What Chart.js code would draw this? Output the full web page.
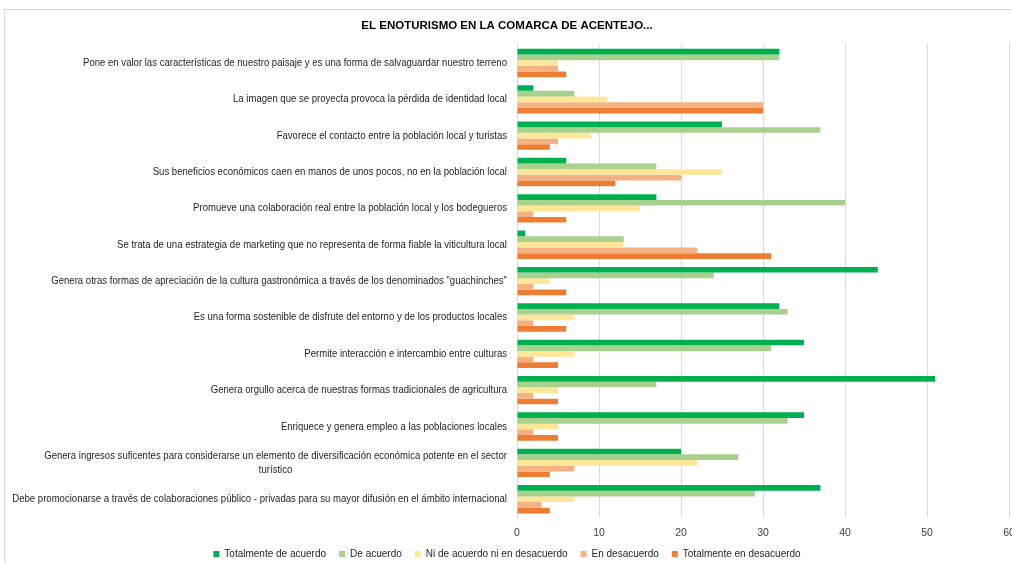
<!DOCTYPE html>
<html>
<head>
<meta charset="utf-8">
<script src="https://cdn.jsdelivr.net/npm/chart.js@4/dist/chart.umd.min.js"></script>
<style>
    body { margin: 0; background: #fff; overflow: hidden; }
    #wrap {
        position: absolute;
        left: 4px;
        top: 9px;
        width: 1020px;
        height: 559px;
        border: 1px solid #d9d9d9;
    }
</style>
</head>
<body>
<div id="wrap"><canvas id="myChart"></canvas></div>
<script>
const categories = [
    'Pone en valor las características de nuestro paisaje y es una forma de salvaguardar nuestro terreno',
    'La imagen que se proyecta provoca la pérdida de identidad local',
    'Favorece el contacto entre la población local y turistas',
    'Sus beneficios económicos caen en manos de unos pocos, no en la población local',
    'Promueve una colaboración real entre la población local y los bodegueros',
    'Se trata de una estrategia de marketing que no representa de forma fiable la viticultura local',
    'Genera otras formas de apreciación de la cultura gastronómica a través de los denominados "guachinches"',
    'Es una forma sostenible de disfrute del entorno y de los productos locales',
    'Permite interacción e intercambio entre culturas',
    'Genera orgullo acerca de nuestras formas tradicionales de agricultura',
    'Enriquece y genera empleo a las poblaciones locales',
    ['Genera ingresos suficentes para considerarse un elemento de diversificación económica potente en el sector', 'turístico'],
    'Debe promocionarse a través de colaboraciones público - privadas para su mayor difusión en el ámbito internacional'
];

const seriesNames = [
    'Totalmente de acuerdo',
    'De acuerdo',
    'Ni de acuerdo ni en desacuerdo',
    'En desacuerdo',
    'Totalmente en desacuerdo'
];

const totalmenteAcuerdo = [32, 2, 25, 6, 17, 1, 44, 32, 35, 51, 35, 20, 37];
const deAcuerdo = [32, 7, 37, 17, 40, 13, 24, 33, 31, 17, 33, 27, 29];
const neutral = [5, 11, 9, 25, 15, 13, 4, 7, 7, 5, 5, 22, 7];
const enDesacuerdo = [5, 30, 5, 20, 2, 22, 2, 2, 2, 2, 2, 7, 3];
const totalmenteDesacuerdo = [6, 30, 4, 12, 6, 31, 6, 6, 5, 5, 5, 4, 4];

const xTicks = [0, 10, 20, 30, 40, 50, 60];

const colors = ['#00B050', '#A9D18E', '#FFE699', '#F4B183', '#ED7D31'];
const values = [totalmenteAcuerdo, deAcuerdo, neutral, enDesacuerdo, totalmenteDesacuerdo];

const font = "'Liberation Sans', Arial, sans-serif";
const narrow = 0.87; // squeeze to look like Arial Narrow

// category labels drawn squeezed, at the positions of the y scale ticks
const yLabels = {
    id: 'yLabels',
    afterDraw(chart) {
        const yScale = chart.scales.y;
        const c = chart.ctx;
        c.save();
        c.font = '11px ' + font;
        c.fillStyle = '#262626';
        c.textBaseline = 'middle';
        const right = yScale.right - 10;
        yScale.ticks.forEach((t, i) => {
            const y = yScale.getPixelForTick(i);
            const lines = Array.isArray(categories[i]) ? categories[i] : [categories[i]];
            const w0 = c.measureText(lines[0]).width * narrow;
            lines.forEach((line, j) => {
                const yy = y + (j - (lines.length - 1) / 2) * 14;
                c.save();
                c.translate(j === 0 ? right : right - w0 / 2, yy);
                c.scale(narrow, 1);
                c.textAlign = j === 0 ? 'right' : 'center';
                c.fillText(line, 0, 0);
                c.restore();
            });
        });
        c.restore();
    }
};

const ctx = document.getElementById('myChart').getContext('2d');
new Chart(ctx, {
    type: 'bar',
    data: {
        labels: categories,
        datasets: values.map((v, i) => ({
            label: seriesNames[i],
            data: v,
            backgroundColor: colors[i],
            borderWidth: 0,
            barPercentage: 1,
            categoryPercentage: 0.78
        }))
    },
    options: {
        indexAxis: 'y',
        responsive: true,
        maintainAspectRatio: false,
        animation: false,
        layout: {
            padding: { left: 0, right: 16, top: 6, bottom: 0 }
        },
        plugins: {
            title: {
                display: true,
                text: 'EL ENOTURISMO EN LA COMARCA DE ACENTEJO...',
                color: '#000',
                font: { family: font, size: 11.5, weight: 'bold' },
                padding: { top: 3, bottom: 12 }
            },
            legend: {
                position: 'bottom',
                labels: {
                    color: '#262626',
                    font: { family: font, size: 10 },
                    boxWidth: 6,
                    boxHeight: 6,
                    padding: 13
                }
            },
            tooltip: { enabled: false }
        },
        scales: {
            x: {
                min: 0,
                max: 60,
                afterBuildTicks: axis => {
                    axis.ticks = xTicks.map(v => ({ value: v }));
                },
                // let the tick labels sit in the legend's empty top padding
                afterFit: scale => {
                    scale.height -= 12;
                },
                grid: { color: '#d9d9d9', drawTicks: false },
                border: { display: false },
                ticks: {
                    color: '#404040',
                    padding: 9,
                    font: { family: font, size: 10.5 }
                }
            },
            y: {
                grid: { display: false },
                border: { color: '#d9d9d9' },
                ticks: { display: false },
                afterFit: scale => {
                    scale.width = 512;
                }
            }
        }
    },
    plugins: [yLabels]
});
</script>
</body>
</html>
